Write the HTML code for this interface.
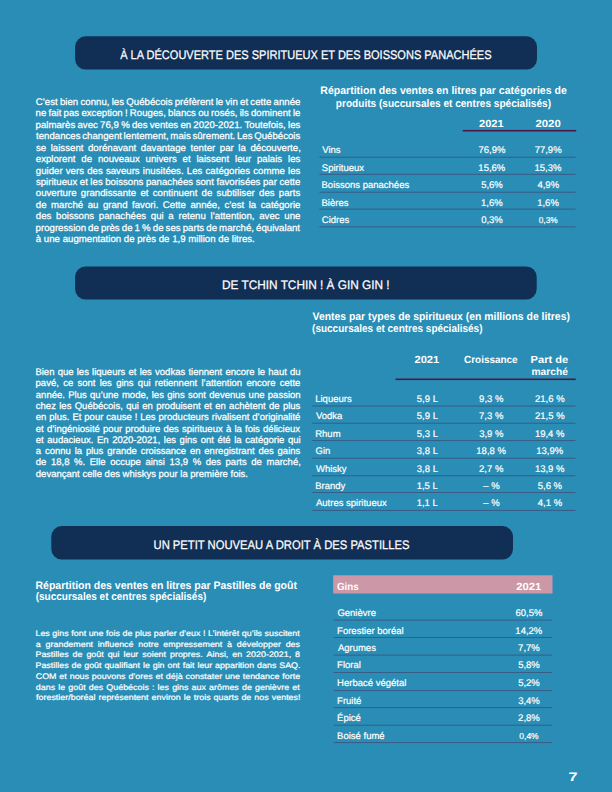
<!DOCTYPE html>
<html><head><meta charset="utf-8"><style>
html,body{margin:0;padding:0}
body{width:612px;height:792px;background:#298db5;overflow:hidden}
svg{display:block;text-rendering:geometricPrecision;font-family:"Liberation Sans",sans-serif}
</style></head><body>
<svg width="612" height="792" viewBox="0 0 612 792" font-family="Liberation Sans, sans-serif" fill="#fff">
<rect x="75.10" y="36.30" width="461.90" height="33.30" rx="10.5" fill="#112e54"/>
<text x="120.18" y="59.00" font-size="12.4" font-weight="400" textLength="371.33" lengthAdjust="spacingAndGlyphs" stroke="#fff" stroke-width="0.25">À LA DÉCOUVERTE DES SPIRITUEUX ET DES BOISSONS PANACHÉES</text>
<rect x="75.10" y="266.50" width="461.60" height="33.10" rx="10.5" fill="#112e54"/>
<text x="222.03" y="289.00" font-size="12.4" font-weight="400" textLength="167.54" lengthAdjust="spacingAndGlyphs" stroke="#fff" stroke-width="0.25">DE TCHIN TCHIN ! À GIN GIN !</text>
<rect x="51.30" y="526.10" width="461.70" height="33.50" rx="10.5" fill="#112e54"/>
<text x="153.53" y="549.00" font-size="12.4" font-weight="400" textLength="255.98" lengthAdjust="spacingAndGlyphs" stroke="#fff" stroke-width="0.25">UN PETIT NOUVEAU A DROIT À DES PASTILLES</text>
<text x="35.71" y="105.00" font-size="9.6" font-weight="400" textLength="21.99" lengthAdjust="spacingAndGlyphs" stroke="#fff" stroke-width="0.25">C’est</text>
<text x="59.97" y="105.00" font-size="9.6" font-weight="400" textLength="18.25" lengthAdjust="spacingAndGlyphs" stroke="#fff" stroke-width="0.25">bien</text>
<text x="80.48" y="105.00" font-size="9.6" font-weight="400" textLength="28.99" lengthAdjust="spacingAndGlyphs" stroke="#fff" stroke-width="0.25">connu,</text>
<text x="111.73" y="105.00" font-size="9.6" font-weight="400" textLength="12.34" lengthAdjust="spacingAndGlyphs" stroke="#fff" stroke-width="0.25">les</text>
<text x="126.34" y="105.00" font-size="9.6" font-weight="400" textLength="46.15" lengthAdjust="spacingAndGlyphs" stroke="#fff" stroke-width="0.25">Québécois</text>
<text x="174.76" y="105.00" font-size="9.6" font-weight="400" textLength="38.64" lengthAdjust="spacingAndGlyphs" stroke="#fff" stroke-width="0.25">préfèrent</text>
<text x="215.66" y="105.00" font-size="9.6" font-weight="400" textLength="7.51" lengthAdjust="spacingAndGlyphs" stroke="#fff" stroke-width="0.25">le</text>
<text x="225.44" y="105.00" font-size="9.6" font-weight="400" textLength="12.34" lengthAdjust="spacingAndGlyphs" stroke="#fff" stroke-width="0.25">vin</text>
<text x="240.05" y="105.00" font-size="9.6" font-weight="400" textLength="8.06" lengthAdjust="spacingAndGlyphs" stroke="#fff" stroke-width="0.25">et</text>
<text x="250.38" y="105.00" font-size="9.6" font-weight="400" textLength="20.94" lengthAdjust="spacingAndGlyphs" stroke="#fff" stroke-width="0.25">cette</text>
<text x="273.58" y="105.00" font-size="9.6" font-weight="400" textLength="26.85" lengthAdjust="spacingAndGlyphs" stroke="#fff" stroke-width="0.25">année</text>
<text x="35.56" y="116.42" font-size="9.6" font-weight="400" textLength="10.74" lengthAdjust="spacingAndGlyphs" stroke="#fff" stroke-width="0.25">ne</text>
<text x="48.52" y="116.42" font-size="9.6" font-weight="400" textLength="12.89" lengthAdjust="spacingAndGlyphs" stroke="#fff" stroke-width="0.25">fait</text>
<text x="63.63" y="116.42" font-size="9.6" font-weight="400" textLength="15.56" lengthAdjust="spacingAndGlyphs" stroke="#fff" stroke-width="0.25">pas</text>
<text x="81.41" y="116.42" font-size="9.6" font-weight="400" textLength="41.32" lengthAdjust="spacingAndGlyphs" stroke="#fff" stroke-width="0.25">exception</text>
<text x="124.96" y="116.42" font-size="9.6" font-weight="400" textLength="2.69" lengthAdjust="spacingAndGlyphs" stroke="#fff" stroke-width="0.25">!</text>
<text x="129.87" y="116.42" font-size="9.6" font-weight="400" textLength="35.95" lengthAdjust="spacingAndGlyphs" stroke="#fff" stroke-width="0.25">Rouges,</text>
<text x="168.04" y="116.42" font-size="9.6" font-weight="400" textLength="27.90" lengthAdjust="spacingAndGlyphs" stroke="#fff" stroke-width="0.25">blancs</text>
<text x="198.17" y="116.42" font-size="9.6" font-weight="400" textLength="10.74" lengthAdjust="spacingAndGlyphs" stroke="#fff" stroke-width="0.25">ou</text>
<text x="211.13" y="116.42" font-size="9.6" font-weight="400" textLength="26.30" lengthAdjust="spacingAndGlyphs" stroke="#fff" stroke-width="0.25">rosés,</text>
<text x="239.65" y="116.42" font-size="9.6" font-weight="400" textLength="9.12" lengthAdjust="spacingAndGlyphs" stroke="#fff" stroke-width="0.25">ils</text>
<text x="250.99" y="116.42" font-size="9.6" font-weight="400" textLength="39.71" lengthAdjust="spacingAndGlyphs" stroke="#fff" stroke-width="0.25">dominent</text>
<text x="292.92" y="116.42" font-size="9.6" font-weight="400" textLength="7.51" lengthAdjust="spacingAndGlyphs" stroke="#fff" stroke-width="0.25">le</text>
<text x="35.58" y="127.84" font-size="9.6" font-weight="400" textLength="39.71" lengthAdjust="spacingAndGlyphs" stroke="#fff" stroke-width="0.25">palmarès</text>
<text x="77.51" y="127.84" font-size="9.6" font-weight="400" textLength="20.39" lengthAdjust="spacingAndGlyphs" stroke="#fff" stroke-width="0.25">avec</text>
<text x="100.13" y="127.84" font-size="9.6" font-weight="400" textLength="18.80" lengthAdjust="spacingAndGlyphs" stroke="#fff" stroke-width="0.25">76,9</text>
<text x="121.15" y="127.84" font-size="9.6" font-weight="400" textLength="8.58" lengthAdjust="spacingAndGlyphs" stroke="#fff" stroke-width="0.25">%</text>
<text x="131.96" y="127.84" font-size="9.6" font-weight="400" textLength="15.56" lengthAdjust="spacingAndGlyphs" stroke="#fff" stroke-width="0.25">des</text>
<text x="149.75" y="127.84" font-size="9.6" font-weight="400" textLength="28.45" lengthAdjust="spacingAndGlyphs" stroke="#fff" stroke-width="0.25">ventes</text>
<text x="180.43" y="127.84" font-size="9.6" font-weight="400" textLength="10.74" lengthAdjust="spacingAndGlyphs" stroke="#fff" stroke-width="0.25">en</text>
<text x="193.39" y="127.84" font-size="9.6" font-weight="400" textLength="48.84" lengthAdjust="spacingAndGlyphs" stroke="#fff" stroke-width="0.25">2020-2021.</text>
<text x="244.46" y="127.84" font-size="9.6" font-weight="400" textLength="41.32" lengthAdjust="spacingAndGlyphs" stroke="#fff" stroke-width="0.25">Toutefois,</text>
<text x="288.01" y="127.84" font-size="9.6" font-weight="400" textLength="12.34" lengthAdjust="spacingAndGlyphs" stroke="#fff" stroke-width="0.25">les</text>
<text x="36.05" y="139.26" font-size="9.6" font-weight="400" textLength="44.50" lengthAdjust="spacingAndGlyphs" stroke="#fff" stroke-width="0.25">tendances</text>
<text x="82.25" y="139.26" font-size="9.6" font-weight="400" textLength="39.68" lengthAdjust="spacingAndGlyphs" stroke="#fff" stroke-width="0.25">changent</text>
<text x="123.63" y="139.26" font-size="9.6" font-weight="400" textLength="45.04" lengthAdjust="spacingAndGlyphs" stroke="#fff" stroke-width="0.25">lentement,</text>
<text x="170.36" y="139.26" font-size="9.6" font-weight="400" textLength="20.37" lengthAdjust="spacingAndGlyphs" stroke="#fff" stroke-width="0.25">mais</text>
<text x="192.42" y="139.26" font-size="9.6" font-weight="400" textLength="42.89" lengthAdjust="spacingAndGlyphs" stroke="#fff" stroke-width="0.25">sûrement.</text>
<text x="237.00" y="139.26" font-size="9.6" font-weight="400" textLength="15.55" lengthAdjust="spacingAndGlyphs" stroke="#fff" stroke-width="0.25">Les</text>
<text x="254.24" y="139.26" font-size="9.6" font-weight="400" textLength="46.10" lengthAdjust="spacingAndGlyphs" stroke="#fff" stroke-width="0.25">Québécois</text>
<text x="35.93" y="150.68" font-size="9.6" font-weight="400" textLength="10.20" lengthAdjust="spacingAndGlyphs" stroke="#fff" stroke-width="0.25">se</text>
<text x="50.71" y="150.68" font-size="9.6" font-weight="400" textLength="32.73" lengthAdjust="spacingAndGlyphs" stroke="#fff" stroke-width="0.25">laissent</text>
<text x="88.01" y="150.68" font-size="9.6" font-weight="400" textLength="48.30" lengthAdjust="spacingAndGlyphs" stroke="#fff" stroke-width="0.25">dorénavant</text>
<text x="140.88" y="150.68" font-size="9.6" font-weight="400" textLength="45.08" lengthAdjust="spacingAndGlyphs" stroke="#fff" stroke-width="0.25">davantage</text>
<text x="190.54" y="150.68" font-size="9.6" font-weight="400" textLength="24.69" lengthAdjust="spacingAndGlyphs" stroke="#fff" stroke-width="0.25">tenter</text>
<text x="219.81" y="150.68" font-size="9.6" font-weight="400" textLength="13.96" lengthAdjust="spacingAndGlyphs" stroke="#fff" stroke-width="0.25">par</text>
<text x="238.34" y="150.68" font-size="9.6" font-weight="400" textLength="7.51" lengthAdjust="spacingAndGlyphs" stroke="#fff" stroke-width="0.25">la</text>
<text x="250.43" y="150.68" font-size="9.6" font-weight="400" textLength="50.44" lengthAdjust="spacingAndGlyphs" stroke="#fff" stroke-width="0.25">découverte,</text>
<text x="35.79" y="162.10" font-size="9.6" font-weight="400" textLength="39.71" lengthAdjust="spacingAndGlyphs" stroke="#fff" stroke-width="0.25">explorent</text>
<text x="81.33" y="162.10" font-size="9.6" font-weight="400" textLength="10.74" lengthAdjust="spacingAndGlyphs" stroke="#fff" stroke-width="0.25">de</text>
<text x="97.90" y="162.10" font-size="9.6" font-weight="400" textLength="41.86" lengthAdjust="spacingAndGlyphs" stroke="#fff" stroke-width="0.25">nouveaux</text>
<text x="145.60" y="162.10" font-size="9.6" font-weight="400" textLength="31.12" lengthAdjust="spacingAndGlyphs" stroke="#fff" stroke-width="0.25">univers</text>
<text x="182.55" y="162.10" font-size="9.6" font-weight="400" textLength="8.06" lengthAdjust="spacingAndGlyphs" stroke="#fff" stroke-width="0.25">et</text>
<text x="196.45" y="162.10" font-size="9.6" font-weight="400" textLength="32.73" lengthAdjust="spacingAndGlyphs" stroke="#fff" stroke-width="0.25">laissent</text>
<text x="235.01" y="162.10" font-size="9.6" font-weight="400" textLength="16.10" lengthAdjust="spacingAndGlyphs" stroke="#fff" stroke-width="0.25">leur</text>
<text x="256.95" y="162.10" font-size="9.6" font-weight="400" textLength="25.23" lengthAdjust="spacingAndGlyphs" stroke="#fff" stroke-width="0.25">palais</text>
<text x="288.01" y="162.10" font-size="9.6" font-weight="400" textLength="12.34" lengthAdjust="spacingAndGlyphs" stroke="#fff" stroke-width="0.25">les</text>
<text x="35.79" y="173.52" font-size="9.6" font-weight="400" textLength="26.83" lengthAdjust="spacingAndGlyphs" stroke="#fff" stroke-width="0.25">guider</text>
<text x="65.79" y="173.52" font-size="9.6" font-weight="400" textLength="18.23" lengthAdjust="spacingAndGlyphs" stroke="#fff" stroke-width="0.25">vers</text>
<text x="87.18" y="173.52" font-size="9.6" font-weight="400" textLength="15.56" lengthAdjust="spacingAndGlyphs" stroke="#fff" stroke-width="0.25">des</text>
<text x="105.90" y="173.52" font-size="9.6" font-weight="400" textLength="33.80" lengthAdjust="spacingAndGlyphs" stroke="#fff" stroke-width="0.25">saveurs</text>
<text x="142.86" y="173.52" font-size="9.6" font-weight="400" textLength="40.77" lengthAdjust="spacingAndGlyphs" stroke="#fff" stroke-width="0.25">inusitées.</text>
<text x="186.79" y="173.52" font-size="9.6" font-weight="400" textLength="15.56" lengthAdjust="spacingAndGlyphs" stroke="#fff" stroke-width="0.25">Les</text>
<text x="205.52" y="173.52" font-size="9.6" font-weight="400" textLength="44.53" lengthAdjust="spacingAndGlyphs" stroke="#fff" stroke-width="0.25">catégories</text>
<text x="253.21" y="173.52" font-size="9.6" font-weight="400" textLength="31.64" lengthAdjust="spacingAndGlyphs" stroke="#fff" stroke-width="0.25">comme</text>
<text x="288.01" y="173.52" font-size="9.6" font-weight="400" textLength="12.34" lengthAdjust="spacingAndGlyphs" stroke="#fff" stroke-width="0.25">les</text>
<text x="35.93" y="184.94" font-size="9.6" font-weight="400" textLength="41.31" lengthAdjust="spacingAndGlyphs" stroke="#fff" stroke-width="0.25">spiritueux</text>
<text x="79.78" y="184.94" font-size="9.6" font-weight="400" textLength="8.06" lengthAdjust="spacingAndGlyphs" stroke="#fff" stroke-width="0.25">et</text>
<text x="90.38" y="184.94" font-size="9.6" font-weight="400" textLength="12.34" lengthAdjust="spacingAndGlyphs" stroke="#fff" stroke-width="0.25">les</text>
<text x="105.26" y="184.94" font-size="9.6" font-weight="400" textLength="38.10" lengthAdjust="spacingAndGlyphs" stroke="#fff" stroke-width="0.25">boissons</text>
<text x="145.90" y="184.94" font-size="9.6" font-weight="400" textLength="47.23" lengthAdjust="spacingAndGlyphs" stroke="#fff" stroke-width="0.25">panachées</text>
<text x="195.67" y="184.94" font-size="9.6" font-weight="400" textLength="18.25" lengthAdjust="spacingAndGlyphs" stroke="#fff" stroke-width="0.25">sont</text>
<text x="216.46" y="184.94" font-size="9.6" font-weight="400" textLength="44.00" lengthAdjust="spacingAndGlyphs" stroke="#fff" stroke-width="0.25">favorisées</text>
<text x="263.00" y="184.94" font-size="9.6" font-weight="400" textLength="13.96" lengthAdjust="spacingAndGlyphs" stroke="#fff" stroke-width="0.25">par</text>
<text x="279.49" y="184.94" font-size="9.6" font-weight="400" textLength="20.94" lengthAdjust="spacingAndGlyphs" stroke="#fff" stroke-width="0.25">cette</text>
<text x="35.79" y="196.36" font-size="9.6" font-weight="400" textLength="40.77" lengthAdjust="spacingAndGlyphs" stroke="#fff" stroke-width="0.25">ouverture</text>
<text x="80.86" y="196.36" font-size="9.6" font-weight="400" textLength="55.27" lengthAdjust="spacingAndGlyphs" stroke="#fff" stroke-width="0.25">grandissante</text>
<text x="140.42" y="196.36" font-size="9.6" font-weight="400" textLength="8.06" lengthAdjust="spacingAndGlyphs" stroke="#fff" stroke-width="0.25">et</text>
<text x="152.78" y="196.36" font-size="9.6" font-weight="400" textLength="44.55" lengthAdjust="spacingAndGlyphs" stroke="#fff" stroke-width="0.25">continuent</text>
<text x="201.62" y="196.36" font-size="9.6" font-weight="400" textLength="10.74" lengthAdjust="spacingAndGlyphs" stroke="#fff" stroke-width="0.25">de</text>
<text x="216.64" y="196.36" font-size="9.6" font-weight="400" textLength="38.09" lengthAdjust="spacingAndGlyphs" stroke="#fff" stroke-width="0.25">subtiliser</text>
<text x="259.02" y="196.36" font-size="9.6" font-weight="400" textLength="15.56" lengthAdjust="spacingAndGlyphs" stroke="#fff" stroke-width="0.25">des</text>
<text x="278.88" y="196.36" font-size="9.6" font-weight="400" textLength="21.47" lengthAdjust="spacingAndGlyphs" stroke="#fff" stroke-width="0.25">parts</text>
<text x="35.79" y="207.78" font-size="9.6" font-weight="400" textLength="10.74" lengthAdjust="spacingAndGlyphs" stroke="#fff" stroke-width="0.25">de</text>
<text x="51.01" y="207.78" font-size="9.6" font-weight="400" textLength="32.19" lengthAdjust="spacingAndGlyphs" stroke="#fff" stroke-width="0.25">marché</text>
<text x="87.68" y="207.78" font-size="9.6" font-weight="400" textLength="10.74" lengthAdjust="spacingAndGlyphs" stroke="#fff" stroke-width="0.25">au</text>
<text x="102.90" y="207.78" font-size="9.6" font-weight="400" textLength="24.69" lengthAdjust="spacingAndGlyphs" stroke="#fff" stroke-width="0.25">grand</text>
<text x="132.07" y="207.78" font-size="9.6" font-weight="400" textLength="26.30" lengthAdjust="spacingAndGlyphs" stroke="#fff" stroke-width="0.25">favori.</text>
<text x="162.85" y="207.78" font-size="9.6" font-weight="400" textLength="23.08" lengthAdjust="spacingAndGlyphs" stroke="#fff" stroke-width="0.25">Cette</text>
<text x="190.40" y="207.78" font-size="9.6" font-weight="400" textLength="29.52" lengthAdjust="spacingAndGlyphs" stroke="#fff" stroke-width="0.25">année,</text>
<text x="224.40" y="207.78" font-size="9.6" font-weight="400" textLength="19.85" lengthAdjust="spacingAndGlyphs" stroke="#fff" stroke-width="0.25">c’est</text>
<text x="248.73" y="207.78" font-size="9.6" font-weight="400" textLength="7.51" lengthAdjust="spacingAndGlyphs" stroke="#fff" stroke-width="0.25">la</text>
<text x="260.72" y="207.78" font-size="9.6" font-weight="400" textLength="39.71" lengthAdjust="spacingAndGlyphs" stroke="#fff" stroke-width="0.25">catégorie</text>
<text x="35.79" y="219.20" font-size="9.6" font-weight="400" textLength="15.56" lengthAdjust="spacingAndGlyphs" stroke="#fff" stroke-width="0.25">des</text>
<text x="56.06" y="219.20" font-size="9.6" font-weight="400" textLength="38.10" lengthAdjust="spacingAndGlyphs" stroke="#fff" stroke-width="0.25">boissons</text>
<text x="98.86" y="219.20" font-size="9.6" font-weight="400" textLength="47.23" lengthAdjust="spacingAndGlyphs" stroke="#fff" stroke-width="0.25">panachées</text>
<text x="150.80" y="219.20" font-size="9.6" font-weight="400" textLength="12.89" lengthAdjust="spacingAndGlyphs" stroke="#fff" stroke-width="0.25">qui</text>
<text x="168.39" y="219.20" font-size="9.6" font-weight="400" textLength="5.38" lengthAdjust="spacingAndGlyphs" stroke="#fff" stroke-width="0.25">a</text>
<text x="178.46" y="219.20" font-size="9.6" font-weight="400" textLength="27.37" lengthAdjust="spacingAndGlyphs" stroke="#fff" stroke-width="0.25">retenu</text>
<text x="210.53" y="219.20" font-size="9.6" font-weight="400" textLength="44.00" lengthAdjust="spacingAndGlyphs" stroke="#fff" stroke-width="0.25">l’attention,</text>
<text x="259.23" y="219.20" font-size="9.6" font-weight="400" textLength="20.39" lengthAdjust="spacingAndGlyphs" stroke="#fff" stroke-width="0.25">avec</text>
<text x="284.32" y="219.20" font-size="9.6" font-weight="400" textLength="16.11" lengthAdjust="spacingAndGlyphs" stroke="#fff" stroke-width="0.25">une</text>
<text x="35.58" y="230.62" font-size="9.6" font-weight="400" textLength="50.44" lengthAdjust="spacingAndGlyphs" stroke="#fff" stroke-width="0.25">progression</text>
<text x="88.11" y="230.62" font-size="9.6" font-weight="400" textLength="10.74" lengthAdjust="spacingAndGlyphs" stroke="#fff" stroke-width="0.25">de</text>
<text x="100.93" y="230.62" font-size="9.6" font-weight="400" textLength="18.78" lengthAdjust="spacingAndGlyphs" stroke="#fff" stroke-width="0.25">près</text>
<text x="121.81" y="230.62" font-size="9.6" font-weight="400" textLength="10.74" lengthAdjust="spacingAndGlyphs" stroke="#fff" stroke-width="0.25">de</text>
<text x="134.63" y="230.62" font-size="9.6" font-weight="400" textLength="5.38" lengthAdjust="spacingAndGlyphs" stroke="#fff" stroke-width="0.25">1</text>
<text x="142.10" y="230.62" font-size="9.6" font-weight="400" textLength="8.58" lengthAdjust="spacingAndGlyphs" stroke="#fff" stroke-width="0.25">%</text>
<text x="152.77" y="230.62" font-size="9.6" font-weight="400" textLength="10.74" lengthAdjust="spacingAndGlyphs" stroke="#fff" stroke-width="0.25">de</text>
<text x="165.60" y="230.62" font-size="9.6" font-weight="400" textLength="15.03" lengthAdjust="spacingAndGlyphs" stroke="#fff" stroke-width="0.25">ses</text>
<text x="182.72" y="230.62" font-size="9.6" font-weight="400" textLength="21.47" lengthAdjust="spacingAndGlyphs" stroke="#fff" stroke-width="0.25">parts</text>
<text x="206.28" y="230.62" font-size="9.6" font-weight="400" textLength="10.74" lengthAdjust="spacingAndGlyphs" stroke="#fff" stroke-width="0.25">de</text>
<text x="219.10" y="230.62" font-size="9.6" font-weight="400" textLength="34.86" lengthAdjust="spacingAndGlyphs" stroke="#fff" stroke-width="0.25">marché,</text>
<text x="256.06" y="230.62" font-size="9.6" font-weight="400" textLength="44.01" lengthAdjust="spacingAndGlyphs" stroke="#fff" stroke-width="0.25">équivalant</text>
<text x="35.79" y="242.04" font-size="9.6" font-weight="400" textLength="5.38" lengthAdjust="spacingAndGlyphs" stroke="#fff" stroke-width="0.25">à</text>
<text x="43.85" y="242.04" font-size="9.6" font-weight="400" textLength="16.11" lengthAdjust="spacingAndGlyphs" stroke="#fff" stroke-width="0.25">une</text>
<text x="62.65" y="242.04" font-size="9.6" font-weight="400" textLength="58.49" lengthAdjust="spacingAndGlyphs" stroke="#fff" stroke-width="0.25">augmentation</text>
<text x="123.83" y="242.04" font-size="9.6" font-weight="400" textLength="10.74" lengthAdjust="spacingAndGlyphs" stroke="#fff" stroke-width="0.25">de</text>
<text x="137.25" y="242.04" font-size="9.6" font-weight="400" textLength="18.78" lengthAdjust="spacingAndGlyphs" stroke="#fff" stroke-width="0.25">près</text>
<text x="158.73" y="242.04" font-size="9.6" font-weight="400" textLength="10.74" lengthAdjust="spacingAndGlyphs" stroke="#fff" stroke-width="0.25">de</text>
<text x="172.15" y="242.04" font-size="9.6" font-weight="400" textLength="13.42" lengthAdjust="spacingAndGlyphs" stroke="#fff" stroke-width="0.25">1,9</text>
<text x="188.26" y="242.04" font-size="9.6" font-weight="400" textLength="27.37" lengthAdjust="spacingAndGlyphs" stroke="#fff" stroke-width="0.25">million</text>
<text x="218.32" y="242.04" font-size="9.6" font-weight="400" textLength="10.74" lengthAdjust="spacingAndGlyphs" stroke="#fff" stroke-width="0.25">de</text>
<text x="231.74" y="242.04" font-size="9.6" font-weight="400" textLength="23.06" lengthAdjust="spacingAndGlyphs" stroke="#fff" stroke-width="0.25">litres.</text>
<text x="35.42" y="375.00" font-size="9.6" font-weight="400" textLength="19.05" lengthAdjust="spacingAndGlyphs" stroke="#fff" stroke-width="0.25">Bien</text>
<text x="57.65" y="375.00" font-size="9.6" font-weight="400" textLength="15.89" lengthAdjust="spacingAndGlyphs" stroke="#fff" stroke-width="0.25">que</text>
<text x="76.72" y="375.00" font-size="9.6" font-weight="400" textLength="12.17" lengthAdjust="spacingAndGlyphs" stroke="#fff" stroke-width="0.25">les</text>
<text x="92.06" y="375.00" font-size="9.6" font-weight="400" textLength="33.34" lengthAdjust="spacingAndGlyphs" stroke="#fff" stroke-width="0.25">liqueurs</text>
<text x="128.58" y="375.00" font-size="9.6" font-weight="400" textLength="7.95" lengthAdjust="spacingAndGlyphs" stroke="#fff" stroke-width="0.25">et</text>
<text x="139.71" y="375.00" font-size="9.6" font-weight="400" textLength="12.17" lengthAdjust="spacingAndGlyphs" stroke="#fff" stroke-width="0.25">les</text>
<text x="155.06" y="375.00" font-size="9.6" font-weight="400" textLength="30.16" lengthAdjust="spacingAndGlyphs" stroke="#fff" stroke-width="0.25">vodkas</text>
<text x="188.40" y="375.00" font-size="9.6" font-weight="400" textLength="33.87" lengthAdjust="spacingAndGlyphs" stroke="#fff" stroke-width="0.25">tiennent</text>
<text x="225.45" y="375.00" font-size="9.6" font-weight="400" textLength="29.11" lengthAdjust="spacingAndGlyphs" stroke="#fff" stroke-width="0.25">encore</text>
<text x="257.74" y="375.00" font-size="9.6" font-weight="400" textLength="7.41" lengthAdjust="spacingAndGlyphs" stroke="#fff" stroke-width="0.25">le</text>
<text x="268.33" y="375.00" font-size="9.6" font-weight="400" textLength="18.54" lengthAdjust="spacingAndGlyphs" stroke="#fff" stroke-width="0.25">haut</text>
<text x="290.05" y="375.00" font-size="9.6" font-weight="400" textLength="10.59" lengthAdjust="spacingAndGlyphs" stroke="#fff" stroke-width="0.25">du</text>
<text x="35.59" y="386.30" font-size="9.6" font-weight="400" textLength="23.30" lengthAdjust="spacingAndGlyphs" stroke="#fff" stroke-width="0.25">pavé,</text>
<text x="63.14" y="386.30" font-size="9.6" font-weight="400" textLength="10.06" lengthAdjust="spacingAndGlyphs" stroke="#fff" stroke-width="0.25">ce</text>
<text x="77.45" y="386.30" font-size="9.6" font-weight="400" textLength="18.00" lengthAdjust="spacingAndGlyphs" stroke="#fff" stroke-width="0.25">sont</text>
<text x="99.71" y="386.30" font-size="9.6" font-weight="400" textLength="12.17" lengthAdjust="spacingAndGlyphs" stroke="#fff" stroke-width="0.25">les</text>
<text x="116.13" y="386.30" font-size="9.6" font-weight="400" textLength="17.47" lengthAdjust="spacingAndGlyphs" stroke="#fff" stroke-width="0.25">gins</text>
<text x="137.85" y="386.30" font-size="9.6" font-weight="400" textLength="12.71" lengthAdjust="spacingAndGlyphs" stroke="#fff" stroke-width="0.25">qui</text>
<text x="154.82" y="386.30" font-size="9.6" font-weight="400" textLength="42.33" lengthAdjust="spacingAndGlyphs" stroke="#fff" stroke-width="0.25">retiennent</text>
<text x="201.41" y="386.30" font-size="9.6" font-weight="400" textLength="40.75" lengthAdjust="spacingAndGlyphs" stroke="#fff" stroke-width="0.25">l’attention</text>
<text x="246.41" y="386.30" font-size="9.6" font-weight="400" textLength="29.11" lengthAdjust="spacingAndGlyphs" stroke="#fff" stroke-width="0.25">encore</text>
<text x="279.78" y="386.30" font-size="9.6" font-weight="400" textLength="20.65" lengthAdjust="spacingAndGlyphs" stroke="#fff" stroke-width="0.25">cette</text>
<text x="35.80" y="397.60" font-size="9.6" font-weight="400" textLength="29.11" lengthAdjust="spacingAndGlyphs" stroke="#fff" stroke-width="0.25">année.</text>
<text x="68.22" y="397.60" font-size="9.6" font-weight="400" textLength="18.52" lengthAdjust="spacingAndGlyphs" stroke="#fff" stroke-width="0.25">Plus</text>
<text x="90.06" y="397.60" font-size="9.6" font-weight="400" textLength="28.58" lengthAdjust="spacingAndGlyphs" stroke="#fff" stroke-width="0.25">qu’une</text>
<text x="121.95" y="397.60" font-size="9.6" font-weight="400" textLength="26.46" lengthAdjust="spacingAndGlyphs" stroke="#fff" stroke-width="0.25">mode,</text>
<text x="151.72" y="397.60" font-size="9.6" font-weight="400" textLength="12.17" lengthAdjust="spacingAndGlyphs" stroke="#fff" stroke-width="0.25">les</text>
<text x="167.21" y="397.60" font-size="9.6" font-weight="400" textLength="17.47" lengthAdjust="spacingAndGlyphs" stroke="#fff" stroke-width="0.25">gins</text>
<text x="187.99" y="397.60" font-size="9.6" font-weight="400" textLength="18.00" lengthAdjust="spacingAndGlyphs" stroke="#fff" stroke-width="0.25">sont</text>
<text x="209.30" y="397.60" font-size="9.6" font-weight="400" textLength="35.99" lengthAdjust="spacingAndGlyphs" stroke="#fff" stroke-width="0.25">devenus</text>
<text x="248.60" y="397.60" font-size="9.6" font-weight="400" textLength="15.89" lengthAdjust="spacingAndGlyphs" stroke="#fff" stroke-width="0.25">une</text>
<text x="267.80" y="397.60" font-size="9.6" font-weight="400" textLength="32.81" lengthAdjust="spacingAndGlyphs" stroke="#fff" stroke-width="0.25">passion</text>
<text x="35.80" y="408.90" font-size="9.6" font-weight="400" textLength="20.10" lengthAdjust="spacingAndGlyphs" stroke="#fff" stroke-width="0.25">chez</text>
<text x="59.23" y="408.90" font-size="9.6" font-weight="400" textLength="12.17" lengthAdjust="spacingAndGlyphs" stroke="#fff" stroke-width="0.25">les</text>
<text x="74.72" y="408.90" font-size="9.6" font-weight="400" textLength="48.14" lengthAdjust="spacingAndGlyphs" stroke="#fff" stroke-width="0.25">Québécois,</text>
<text x="126.19" y="408.90" font-size="9.6" font-weight="400" textLength="12.71" lengthAdjust="spacingAndGlyphs" stroke="#fff" stroke-width="0.25">qui</text>
<text x="142.23" y="408.90" font-size="9.6" font-weight="400" textLength="10.59" lengthAdjust="spacingAndGlyphs" stroke="#fff" stroke-width="0.25">en</text>
<text x="156.14" y="408.90" font-size="9.6" font-weight="400" textLength="44.45" lengthAdjust="spacingAndGlyphs" stroke="#fff" stroke-width="0.25">produisent</text>
<text x="203.92" y="408.90" font-size="9.6" font-weight="400" textLength="7.95" lengthAdjust="spacingAndGlyphs" stroke="#fff" stroke-width="0.25">et</text>
<text x="215.20" y="408.90" font-size="9.6" font-weight="400" textLength="10.59" lengthAdjust="spacingAndGlyphs" stroke="#fff" stroke-width="0.25">en</text>
<text x="229.12" y="408.90" font-size="9.6" font-weight="400" textLength="36.52" lengthAdjust="spacingAndGlyphs" stroke="#fff" stroke-width="0.25">achètent</text>
<text x="268.96" y="408.90" font-size="9.6" font-weight="400" textLength="10.59" lengthAdjust="spacingAndGlyphs" stroke="#fff" stroke-width="0.25">de</text>
<text x="282.88" y="408.90" font-size="9.6" font-weight="400" textLength="17.47" lengthAdjust="spacingAndGlyphs" stroke="#fff" stroke-width="0.25">plus</text>
<text x="35.80" y="420.20" font-size="9.6" font-weight="400" textLength="10.59" lengthAdjust="spacingAndGlyphs" stroke="#fff" stroke-width="0.25">en</text>
<text x="49.33" y="420.20" font-size="9.6" font-weight="400" textLength="20.10" lengthAdjust="spacingAndGlyphs" stroke="#fff" stroke-width="0.25">plus.</text>
<text x="72.38" y="420.20" font-size="9.6" font-weight="400" textLength="9.01" lengthAdjust="spacingAndGlyphs" stroke="#fff" stroke-width="0.25">Et</text>
<text x="84.33" y="420.20" font-size="9.6" font-weight="400" textLength="19.05" lengthAdjust="spacingAndGlyphs" stroke="#fff" stroke-width="0.25">pour</text>
<text x="106.33" y="420.20" font-size="9.6" font-weight="400" textLength="25.40" lengthAdjust="spacingAndGlyphs" stroke="#fff" stroke-width="0.25">cause</text>
<text x="134.68" y="420.20" font-size="9.6" font-weight="400" textLength="2.65" lengthAdjust="spacingAndGlyphs" stroke="#fff" stroke-width="0.25">!</text>
<text x="140.27" y="420.20" font-size="9.6" font-weight="400" textLength="15.35" lengthAdjust="spacingAndGlyphs" stroke="#fff" stroke-width="0.25">Les</text>
<text x="158.56" y="420.20" font-size="9.6" font-weight="400" textLength="50.27" lengthAdjust="spacingAndGlyphs" stroke="#fff" stroke-width="0.25">producteurs</text>
<text x="211.78" y="420.20" font-size="9.6" font-weight="400" textLength="37.56" lengthAdjust="spacingAndGlyphs" stroke="#fff" stroke-width="0.25">rivalisent</text>
<text x="252.28" y="420.20" font-size="9.6" font-weight="400" textLength="48.14" lengthAdjust="spacingAndGlyphs" stroke="#fff" stroke-width="0.25">d’originalité</text>
<text x="35.80" y="431.50" font-size="9.6" font-weight="400" textLength="7.95" lengthAdjust="spacingAndGlyphs" stroke="#fff" stroke-width="0.25">et</text>
<text x="46.95" y="431.50" font-size="9.6" font-weight="400" textLength="52.92" lengthAdjust="spacingAndGlyphs" stroke="#fff" stroke-width="0.25">d’ingéniosité</text>
<text x="103.07" y="431.50" font-size="9.6" font-weight="400" textLength="19.05" lengthAdjust="spacingAndGlyphs" stroke="#fff" stroke-width="0.25">pour</text>
<text x="125.32" y="431.50" font-size="9.6" font-weight="400" textLength="34.92" lengthAdjust="spacingAndGlyphs" stroke="#fff" stroke-width="0.25">produire</text>
<text x="163.44" y="431.50" font-size="9.6" font-weight="400" textLength="15.35" lengthAdjust="spacingAndGlyphs" stroke="#fff" stroke-width="0.25">des</text>
<text x="181.99" y="431.50" font-size="9.6" font-weight="400" textLength="40.73" lengthAdjust="spacingAndGlyphs" stroke="#fff" stroke-width="0.25">spiritueux</text>
<text x="225.92" y="431.50" font-size="9.6" font-weight="400" textLength="5.30" lengthAdjust="spacingAndGlyphs" stroke="#fff" stroke-width="0.25">à</text>
<text x="234.43" y="431.50" font-size="9.6" font-weight="400" textLength="7.41" lengthAdjust="spacingAndGlyphs" stroke="#fff" stroke-width="0.25">la</text>
<text x="245.04" y="431.50" font-size="9.6" font-weight="400" textLength="14.82" lengthAdjust="spacingAndGlyphs" stroke="#fff" stroke-width="0.25">fois</text>
<text x="263.06" y="431.50" font-size="9.6" font-weight="400" textLength="37.05" lengthAdjust="spacingAndGlyphs" stroke="#fff" stroke-width="0.25">délicieux</text>
<text x="35.80" y="442.80" font-size="9.6" font-weight="400" textLength="7.95" lengthAdjust="spacingAndGlyphs" stroke="#fff" stroke-width="0.25">et</text>
<text x="47.31" y="442.80" font-size="9.6" font-weight="400" textLength="46.03" lengthAdjust="spacingAndGlyphs" stroke="#fff" stroke-width="0.25">audacieux.</text>
<text x="96.91" y="442.80" font-size="9.6" font-weight="400" textLength="11.66" lengthAdjust="spacingAndGlyphs" stroke="#fff" stroke-width="0.25">En</text>
<text x="112.14" y="442.80" font-size="9.6" font-weight="400" textLength="48.16" lengthAdjust="spacingAndGlyphs" stroke="#fff" stroke-width="0.25">2020-2021,</text>
<text x="163.86" y="442.80" font-size="9.6" font-weight="400" textLength="12.17" lengthAdjust="spacingAndGlyphs" stroke="#fff" stroke-width="0.25">les</text>
<text x="179.60" y="442.80" font-size="9.6" font-weight="400" textLength="17.47" lengthAdjust="spacingAndGlyphs" stroke="#fff" stroke-width="0.25">gins</text>
<text x="200.63" y="442.80" font-size="9.6" font-weight="400" textLength="13.24" lengthAdjust="spacingAndGlyphs" stroke="#fff" stroke-width="0.25">ont</text>
<text x="217.43" y="442.80" font-size="9.6" font-weight="400" textLength="13.24" lengthAdjust="spacingAndGlyphs" stroke="#fff" stroke-width="0.25">été</text>
<text x="234.24" y="442.80" font-size="9.6" font-weight="400" textLength="7.41" lengthAdjust="spacingAndGlyphs" stroke="#fff" stroke-width="0.25">la</text>
<text x="245.21" y="442.80" font-size="9.6" font-weight="400" textLength="39.15" lengthAdjust="spacingAndGlyphs" stroke="#fff" stroke-width="0.25">catégorie</text>
<text x="287.93" y="442.80" font-size="9.6" font-weight="400" textLength="12.71" lengthAdjust="spacingAndGlyphs" stroke="#fff" stroke-width="0.25">qui</text>
<text x="35.80" y="454.10" font-size="9.6" font-weight="400" textLength="5.30" lengthAdjust="spacingAndGlyphs" stroke="#fff" stroke-width="0.25">a</text>
<text x="44.91" y="454.10" font-size="9.6" font-weight="400" textLength="25.93" lengthAdjust="spacingAndGlyphs" stroke="#fff" stroke-width="0.25">connu</text>
<text x="74.66" y="454.10" font-size="9.6" font-weight="400" textLength="7.41" lengthAdjust="spacingAndGlyphs" stroke="#fff" stroke-width="0.25">la</text>
<text x="85.89" y="454.10" font-size="9.6" font-weight="400" textLength="17.47" lengthAdjust="spacingAndGlyphs" stroke="#fff" stroke-width="0.25">plus</text>
<text x="107.18" y="454.10" font-size="9.6" font-weight="400" textLength="29.64" lengthAdjust="spacingAndGlyphs" stroke="#fff" stroke-width="0.25">grande</text>
<text x="140.63" y="454.10" font-size="9.6" font-weight="400" textLength="45.49" lengthAdjust="spacingAndGlyphs" stroke="#fff" stroke-width="0.25">croissance</text>
<text x="189.94" y="454.10" font-size="9.6" font-weight="400" textLength="10.59" lengthAdjust="spacingAndGlyphs" stroke="#fff" stroke-width="0.25">en</text>
<text x="204.34" y="454.10" font-size="9.6" font-weight="400" textLength="50.27" lengthAdjust="spacingAndGlyphs" stroke="#fff" stroke-width="0.25">enregistrant</text>
<text x="258.43" y="454.10" font-size="9.6" font-weight="400" textLength="15.35" lengthAdjust="spacingAndGlyphs" stroke="#fff" stroke-width="0.25">des</text>
<text x="277.59" y="454.10" font-size="9.6" font-weight="400" textLength="22.75" lengthAdjust="spacingAndGlyphs" stroke="#fff" stroke-width="0.25">gains</text>
<text x="35.80" y="465.40" font-size="9.6" font-weight="400" textLength="10.59" lengthAdjust="spacingAndGlyphs" stroke="#fff" stroke-width="0.25">de</text>
<text x="50.95" y="465.40" font-size="9.6" font-weight="400" textLength="18.54" lengthAdjust="spacingAndGlyphs" stroke="#fff" stroke-width="0.25">18,8</text>
<text x="74.05" y="465.40" font-size="9.6" font-weight="400" textLength="11.11" lengthAdjust="spacingAndGlyphs" stroke="#fff" stroke-width="0.25">%.</text>
<text x="89.73" y="465.40" font-size="9.6" font-weight="400" textLength="15.87" lengthAdjust="spacingAndGlyphs" stroke="#fff" stroke-width="0.25">Elle</text>
<text x="110.16" y="465.40" font-size="9.6" font-weight="400" textLength="30.69" lengthAdjust="spacingAndGlyphs" stroke="#fff" stroke-width="0.25">occupe</text>
<text x="145.42" y="465.40" font-size="9.6" font-weight="400" textLength="19.58" lengthAdjust="spacingAndGlyphs" stroke="#fff" stroke-width="0.25">ainsi</text>
<text x="169.56" y="465.40" font-size="9.6" font-weight="400" textLength="18.54" lengthAdjust="spacingAndGlyphs" stroke="#fff" stroke-width="0.25">13,9</text>
<text x="192.66" y="465.40" font-size="9.6" font-weight="400" textLength="8.46" lengthAdjust="spacingAndGlyphs" stroke="#fff" stroke-width="0.25">%</text>
<text x="205.68" y="465.40" font-size="9.6" font-weight="400" textLength="15.35" lengthAdjust="spacingAndGlyphs" stroke="#fff" stroke-width="0.25">des</text>
<text x="225.59" y="465.40" font-size="9.6" font-weight="400" textLength="21.17" lengthAdjust="spacingAndGlyphs" stroke="#fff" stroke-width="0.25">parts</text>
<text x="251.33" y="465.40" font-size="9.6" font-weight="400" textLength="10.59" lengthAdjust="spacingAndGlyphs" stroke="#fff" stroke-width="0.25">de</text>
<text x="266.48" y="465.40" font-size="9.6" font-weight="400" textLength="34.38" lengthAdjust="spacingAndGlyphs" stroke="#fff" stroke-width="0.25">marché,</text>
<text x="35.80" y="476.70" font-size="9.6" font-weight="400" textLength="43.93" lengthAdjust="spacingAndGlyphs" stroke="#fff" stroke-width="0.25">devançant</text>
<text x="82.38" y="476.70" font-size="9.6" font-weight="400" textLength="19.58" lengthAdjust="spacingAndGlyphs" stroke="#fff" stroke-width="0.25">celle</text>
<text x="104.60" y="476.70" font-size="9.6" font-weight="400" textLength="15.35" lengthAdjust="spacingAndGlyphs" stroke="#fff" stroke-width="0.25">des</text>
<text x="122.60" y="476.70" font-size="9.6" font-weight="400" textLength="33.33" lengthAdjust="spacingAndGlyphs" stroke="#fff" stroke-width="0.25">whiskys</text>
<text x="158.58" y="476.70" font-size="9.6" font-weight="400" textLength="19.05" lengthAdjust="spacingAndGlyphs" stroke="#fff" stroke-width="0.25">pour</text>
<text x="180.28" y="476.70" font-size="9.6" font-weight="400" textLength="7.41" lengthAdjust="spacingAndGlyphs" stroke="#fff" stroke-width="0.25">la</text>
<text x="190.34" y="476.70" font-size="9.6" font-weight="400" textLength="37.56" lengthAdjust="spacingAndGlyphs" stroke="#fff" stroke-width="0.25">première</text>
<text x="230.54" y="476.70" font-size="9.6" font-weight="400" textLength="17.47" lengthAdjust="spacingAndGlyphs" stroke="#fff" stroke-width="0.25">fois.</text>
<text x="35.47" y="635.80" font-size="8.1" font-weight="400" textLength="14.37" lengthAdjust="spacingAndGlyphs" stroke="#fff" stroke-width="0.22">Les</text>
<text x="52.38" y="635.80" font-size="8.1" font-weight="400" textLength="16.35" lengthAdjust="spacingAndGlyphs" stroke="#fff" stroke-width="0.22">gins</text>
<text x="71.27" y="635.80" font-size="8.1" font-weight="400" textLength="14.87" lengthAdjust="spacingAndGlyphs" stroke="#fff" stroke-width="0.22">font</text>
<text x="88.68" y="635.80" font-size="8.1" font-weight="400" textLength="14.87" lengthAdjust="spacingAndGlyphs" stroke="#fff" stroke-width="0.22">une</text>
<text x="106.09" y="635.80" font-size="8.1" font-weight="400" textLength="13.87" lengthAdjust="spacingAndGlyphs" stroke="#fff" stroke-width="0.22">fois</text>
<text x="122.51" y="635.80" font-size="8.1" font-weight="400" textLength="9.92" lengthAdjust="spacingAndGlyphs" stroke="#fff" stroke-width="0.22">de</text>
<text x="134.97" y="635.80" font-size="8.1" font-weight="400" textLength="16.35" lengthAdjust="spacingAndGlyphs" stroke="#fff" stroke-width="0.22">plus</text>
<text x="153.86" y="635.80" font-size="8.1" font-weight="400" textLength="22.77" lengthAdjust="spacingAndGlyphs" stroke="#fff" stroke-width="0.22">parler</text>
<text x="179.18" y="635.80" font-size="8.1" font-weight="400" textLength="21.30" lengthAdjust="spacingAndGlyphs" stroke="#fff" stroke-width="0.22">d’eux</text>
<text x="203.02" y="635.80" font-size="8.1" font-weight="400" textLength="2.48" lengthAdjust="spacingAndGlyphs" stroke="#fff" stroke-width="0.22">!</text>
<text x="208.03" y="635.80" font-size="8.1" font-weight="400" textLength="31.20" lengthAdjust="spacingAndGlyphs" stroke="#fff" stroke-width="0.22">L’intérêt</text>
<text x="241.77" y="635.80" font-size="8.1" font-weight="400" textLength="20.30" lengthAdjust="spacingAndGlyphs" stroke="#fff" stroke-width="0.22">qu’ils</text>
<text x="264.62" y="635.80" font-size="8.1" font-weight="400" textLength="35.15" lengthAdjust="spacingAndGlyphs" stroke="#fff" stroke-width="0.22">suscitent</text>
<text x="35.82" y="646.55" font-size="8.1" font-weight="400" textLength="4.97" lengthAdjust="spacingAndGlyphs" stroke="#fff" stroke-width="0.22">a</text>
<text x="45.57" y="646.55" font-size="8.1" font-weight="400" textLength="47.52" lengthAdjust="spacingAndGlyphs" stroke="#fff" stroke-width="0.22">grandement</text>
<text x="97.88" y="646.55" font-size="8.1" font-weight="400" textLength="35.65" lengthAdjust="spacingAndGlyphs" stroke="#fff" stroke-width="0.22">influencé</text>
<text x="138.31" y="646.55" font-size="8.1" font-weight="400" textLength="20.30" lengthAdjust="spacingAndGlyphs" stroke="#fff" stroke-width="0.22">notre</text>
<text x="163.39" y="646.55" font-size="8.1" font-weight="400" textLength="58.88" lengthAdjust="spacingAndGlyphs" stroke="#fff" stroke-width="0.22">empressement</text>
<text x="227.05" y="646.55" font-size="8.1" font-weight="400" textLength="4.97" lengthAdjust="spacingAndGlyphs" stroke="#fff" stroke-width="0.22">à</text>
<text x="236.80" y="646.55" font-size="8.1" font-weight="400" textLength="44.07" lengthAdjust="spacingAndGlyphs" stroke="#fff" stroke-width="0.22">développer</text>
<text x="285.65" y="646.55" font-size="8.1" font-weight="400" textLength="14.37" lengthAdjust="spacingAndGlyphs" stroke="#fff" stroke-width="0.22">des</text>
<text x="35.47" y="657.30" font-size="8.1" font-weight="400" textLength="33.15" lengthAdjust="spacingAndGlyphs" stroke="#fff" stroke-width="0.22">Pastilles</text>
<text x="72.55" y="657.30" font-size="8.1" font-weight="400" textLength="9.92" lengthAdjust="spacingAndGlyphs" stroke="#fff" stroke-width="0.22">de</text>
<text x="86.40" y="657.30" font-size="8.1" font-weight="400" textLength="17.34" lengthAdjust="spacingAndGlyphs" stroke="#fff" stroke-width="0.22">goût</text>
<text x="107.67" y="657.30" font-size="8.1" font-weight="400" textLength="11.89" lengthAdjust="spacingAndGlyphs" stroke="#fff" stroke-width="0.22">qui</text>
<text x="123.49" y="657.30" font-size="8.1" font-weight="400" textLength="14.85" lengthAdjust="spacingAndGlyphs" stroke="#fff" stroke-width="0.22">leur</text>
<text x="142.27" y="657.30" font-size="8.1" font-weight="400" textLength="23.77" lengthAdjust="spacingAndGlyphs" stroke="#fff" stroke-width="0.22">soient</text>
<text x="169.97" y="657.30" font-size="8.1" font-weight="400" textLength="32.67" lengthAdjust="spacingAndGlyphs" stroke="#fff" stroke-width="0.22">propres.</text>
<text x="206.57" y="657.30" font-size="8.1" font-weight="400" textLength="21.78" lengthAdjust="spacingAndGlyphs" stroke="#fff" stroke-width="0.22">Ainsi,</text>
<text x="232.28" y="657.30" font-size="8.1" font-weight="400" textLength="9.92" lengthAdjust="spacingAndGlyphs" stroke="#fff" stroke-width="0.22">en</text>
<text x="246.13" y="657.30" font-size="8.1" font-weight="400" textLength="45.07" lengthAdjust="spacingAndGlyphs" stroke="#fff" stroke-width="0.22">2020-2021,</text>
<text x="295.12" y="657.30" font-size="8.1" font-weight="400" textLength="4.97" lengthAdjust="spacingAndGlyphs" stroke="#fff" stroke-width="0.22">8</text>
<text x="35.47" y="668.05" font-size="8.1" font-weight="400" textLength="33.15" lengthAdjust="spacingAndGlyphs" stroke="#fff" stroke-width="0.22">Pastilles</text>
<text x="71.47" y="668.05" font-size="8.1" font-weight="400" textLength="9.92" lengthAdjust="spacingAndGlyphs" stroke="#fff" stroke-width="0.22">de</text>
<text x="84.23" y="668.05" font-size="8.1" font-weight="400" textLength="17.34" lengthAdjust="spacingAndGlyphs" stroke="#fff" stroke-width="0.22">goût</text>
<text x="104.42" y="668.05" font-size="8.1" font-weight="400" textLength="35.65" lengthAdjust="spacingAndGlyphs" stroke="#fff" stroke-width="0.22">qualifiant</text>
<text x="142.91" y="668.05" font-size="8.1" font-weight="400" textLength="6.94" lengthAdjust="spacingAndGlyphs" stroke="#fff" stroke-width="0.22">le</text>
<text x="152.70" y="668.05" font-size="8.1" font-weight="400" textLength="11.89" lengthAdjust="spacingAndGlyphs" stroke="#fff" stroke-width="0.22">gin</text>
<text x="167.44" y="668.05" font-size="8.1" font-weight="400" textLength="12.39" lengthAdjust="spacingAndGlyphs" stroke="#fff" stroke-width="0.22">ont</text>
<text x="182.67" y="668.05" font-size="8.1" font-weight="400" textLength="11.89" lengthAdjust="spacingAndGlyphs" stroke="#fff" stroke-width="0.22">fait</text>
<text x="197.41" y="668.05" font-size="8.1" font-weight="400" textLength="14.85" lengthAdjust="spacingAndGlyphs" stroke="#fff" stroke-width="0.22">leur</text>
<text x="215.11" y="668.05" font-size="8.1" font-weight="400" textLength="39.12" lengthAdjust="spacingAndGlyphs" stroke="#fff" stroke-width="0.22">apparition</text>
<text x="257.07" y="668.05" font-size="8.1" font-weight="400" textLength="19.32" lengthAdjust="spacingAndGlyphs" stroke="#fff" stroke-width="0.22">dans</text>
<text x="279.24" y="668.05" font-size="8.1" font-weight="400" textLength="21.28" lengthAdjust="spacingAndGlyphs" stroke="#fff" stroke-width="0.22">SAQ.</text>
<text x="35.75" y="678.80" font-size="8.1" font-weight="400" textLength="20.78" lengthAdjust="spacingAndGlyphs" stroke="#fff" stroke-width="0.22">COM</text>
<text x="59.39" y="678.80" font-size="8.1" font-weight="400" textLength="7.44" lengthAdjust="spacingAndGlyphs" stroke="#fff" stroke-width="0.22">et</text>
<text x="69.70" y="678.80" font-size="8.1" font-weight="400" textLength="19.32" lengthAdjust="spacingAndGlyphs" stroke="#fff" stroke-width="0.22">nous</text>
<text x="91.88" y="678.80" font-size="8.1" font-weight="400" textLength="33.67" lengthAdjust="spacingAndGlyphs" stroke="#fff" stroke-width="0.22">pouvons</text>
<text x="128.41" y="678.80" font-size="8.1" font-weight="400" textLength="24.25" lengthAdjust="spacingAndGlyphs" stroke="#fff" stroke-width="0.22">d’ores</text>
<text x="155.53" y="678.80" font-size="8.1" font-weight="400" textLength="7.44" lengthAdjust="spacingAndGlyphs" stroke="#fff" stroke-width="0.22">et</text>
<text x="165.84" y="678.80" font-size="8.1" font-weight="400" textLength="16.84" lengthAdjust="spacingAndGlyphs" stroke="#fff" stroke-width="0.22">déjà</text>
<text x="185.54" y="678.80" font-size="8.1" font-weight="400" textLength="36.63" lengthAdjust="spacingAndGlyphs" stroke="#fff" stroke-width="0.22">constater</text>
<text x="225.03" y="678.80" font-size="8.1" font-weight="400" textLength="14.87" lengthAdjust="spacingAndGlyphs" stroke="#fff" stroke-width="0.22">une</text>
<text x="242.76" y="678.80" font-size="8.1" font-weight="400" textLength="36.64" lengthAdjust="spacingAndGlyphs" stroke="#fff" stroke-width="0.22">tendance</text>
<text x="282.27" y="678.80" font-size="8.1" font-weight="400" textLength="17.82" lengthAdjust="spacingAndGlyphs" stroke="#fff" stroke-width="0.22">forte</text>
<text x="35.83" y="689.55" font-size="8.1" font-weight="400" textLength="19.32" lengthAdjust="spacingAndGlyphs" stroke="#fff" stroke-width="0.22">dans</text>
<text x="58.28" y="689.55" font-size="8.1" font-weight="400" textLength="6.94" lengthAdjust="spacingAndGlyphs" stroke="#fff" stroke-width="0.22">le</text>
<text x="68.35" y="689.55" font-size="8.1" font-weight="400" textLength="17.34" lengthAdjust="spacingAndGlyphs" stroke="#fff" stroke-width="0.22">goût</text>
<text x="88.83" y="689.55" font-size="8.1" font-weight="400" textLength="14.37" lengthAdjust="spacingAndGlyphs" stroke="#fff" stroke-width="0.22">des</text>
<text x="106.33" y="689.55" font-size="8.1" font-weight="400" textLength="42.57" lengthAdjust="spacingAndGlyphs" stroke="#fff" stroke-width="0.22">Québécois</text>
<text x="152.03" y="689.55" font-size="8.1" font-weight="400" textLength="2.48" lengthAdjust="spacingAndGlyphs" stroke="#fff" stroke-width="0.22">:</text>
<text x="157.64" y="689.55" font-size="8.1" font-weight="400" textLength="11.40" lengthAdjust="spacingAndGlyphs" stroke="#fff" stroke-width="0.22">les</text>
<text x="172.16" y="689.55" font-size="8.1" font-weight="400" textLength="16.35" lengthAdjust="spacingAndGlyphs" stroke="#fff" stroke-width="0.22">gins</text>
<text x="191.64" y="689.55" font-size="8.1" font-weight="400" textLength="14.37" lengthAdjust="spacingAndGlyphs" stroke="#fff" stroke-width="0.22">aux</text>
<text x="209.14" y="689.55" font-size="8.1" font-weight="400" textLength="29.70" lengthAdjust="spacingAndGlyphs" stroke="#fff" stroke-width="0.22">arômes</text>
<text x="241.97" y="689.55" font-size="8.1" font-weight="400" textLength="9.92" lengthAdjust="spacingAndGlyphs" stroke="#fff" stroke-width="0.22">de</text>
<text x="255.02" y="689.55" font-size="8.1" font-weight="400" textLength="34.17" lengthAdjust="spacingAndGlyphs" stroke="#fff" stroke-width="0.22">genièvre</text>
<text x="292.32" y="689.55" font-size="8.1" font-weight="400" textLength="7.44" lengthAdjust="spacingAndGlyphs" stroke="#fff" stroke-width="0.22">et</text>
<text x="36.07" y="700.30" font-size="8.1" font-weight="400" textLength="59.40" lengthAdjust="spacingAndGlyphs" stroke="#fff" stroke-width="0.22">forestier/boréal</text>
<text x="98.51" y="700.30" font-size="8.1" font-weight="400" textLength="50.00" lengthAdjust="spacingAndGlyphs" stroke="#fff" stroke-width="0.22">représentent</text>
<text x="151.55" y="700.30" font-size="8.1" font-weight="400" textLength="29.20" lengthAdjust="spacingAndGlyphs" stroke="#fff" stroke-width="0.22">environ</text>
<text x="183.79" y="700.30" font-size="8.1" font-weight="400" textLength="6.94" lengthAdjust="spacingAndGlyphs" stroke="#fff" stroke-width="0.22">le</text>
<text x="193.77" y="700.30" font-size="8.1" font-weight="400" textLength="16.83" lengthAdjust="spacingAndGlyphs" stroke="#fff" stroke-width="0.22">trois</text>
<text x="213.64" y="700.30" font-size="8.1" font-weight="400" textLength="24.75" lengthAdjust="spacingAndGlyphs" stroke="#fff" stroke-width="0.22">quarts</text>
<text x="241.43" y="700.30" font-size="8.1" font-weight="400" textLength="9.92" lengthAdjust="spacingAndGlyphs" stroke="#fff" stroke-width="0.22">de</text>
<text x="254.38" y="700.30" font-size="8.1" font-weight="400" textLength="14.37" lengthAdjust="spacingAndGlyphs" stroke="#fff" stroke-width="0.22">nos</text>
<text x="271.79" y="700.30" font-size="8.1" font-weight="400" textLength="28.72" lengthAdjust="spacingAndGlyphs" stroke="#fff" stroke-width="0.22">ventes!</text>
<text x="320.30" y="94.00" font-size="11" font-weight="700" textLength="246.46" lengthAdjust="spacingAndGlyphs">Répartition des ventes en litres par catégories de</text>
<text x="335.84" y="107.00" font-size="11" font-weight="700" textLength="215.17" lengthAdjust="spacingAndGlyphs">produits (succursales et centres spécialisés)</text>
<text x="479.02" y="127.00" font-size="10.3" font-weight="700" textLength="24.69" lengthAdjust="spacingAndGlyphs">2021</text>
<text x="535.40" y="127.00" font-size="10.3" font-weight="700" textLength="25.36" lengthAdjust="spacingAndGlyphs">2020</text>
<rect x="462.70" y="129.90" width="113.50" height="1.60" rx="0" fill="#4e1846"/>
<text x="322.26" y="152.90" font-size="9.6" font-weight="400" textLength="18.32" lengthAdjust="spacingAndGlyphs" stroke="#fff" stroke-width="0.2">Vins</text>
<text x="491.93" y="152.90" font-size="9.6" font-weight="400" text-anchor="middle" textLength="26.93" lengthAdjust="spacingAndGlyphs" stroke="#fff" stroke-width="0.2">76,9%</text>
<text x="548.13" y="152.90" font-size="9.6" font-weight="400" text-anchor="middle" textLength="26.93" lengthAdjust="spacingAndGlyphs" stroke="#fff" stroke-width="0.2">77,9%</text>
<rect x="319.30" y="156.75" width="256.20" height="0.90" rx="0" fill="#3a5882"/>
<text x="321.87" y="170.80" font-size="9.6" font-weight="400" textLength="42.25" lengthAdjust="spacingAndGlyphs" stroke="#fff" stroke-width="0.2">Spiritueux</text>
<text x="491.81" y="170.80" font-size="9.6" font-weight="400" text-anchor="middle" textLength="26.93" lengthAdjust="spacingAndGlyphs" stroke="#fff" stroke-width="0.2">15,6%</text>
<text x="548.01" y="170.80" font-size="9.6" font-weight="400" text-anchor="middle" textLength="26.93" lengthAdjust="spacingAndGlyphs" stroke="#fff" stroke-width="0.2">15,3%</text>
<rect x="319.30" y="173.85" width="256.20" height="0.90" rx="0" fill="#3a5882"/>
<text x="321.52" y="187.70" font-size="9.6" font-weight="400" textLength="87.66" lengthAdjust="spacingAndGlyphs" stroke="#fff" stroke-width="0.2">Boissons panachées</text>
<text x="491.98" y="187.70" font-size="9.6" font-weight="400" text-anchor="middle" textLength="21.66" lengthAdjust="spacingAndGlyphs" stroke="#fff" stroke-width="0.2">5,6%</text>
<text x="548.26" y="187.70" font-size="9.6" font-weight="400" text-anchor="middle" textLength="21.66" lengthAdjust="spacingAndGlyphs" stroke="#fff" stroke-width="0.2">4,9%</text>
<rect x="319.30" y="191.75" width="256.20" height="0.90" rx="0" fill="#3a5882"/>
<text x="321.52" y="205.60" font-size="9.6" font-weight="400" textLength="26.93" lengthAdjust="spacingAndGlyphs" stroke="#fff" stroke-width="0.2">Bières</text>
<text x="491.81" y="205.60" font-size="9.6" font-weight="400" text-anchor="middle" textLength="21.66" lengthAdjust="spacingAndGlyphs" stroke="#fff" stroke-width="0.2">1,6%</text>
<text x="548.01" y="205.60" font-size="9.6" font-weight="400" text-anchor="middle" textLength="21.66" lengthAdjust="spacingAndGlyphs" stroke="#fff" stroke-width="0.2">1,6%</text>
<rect x="319.30" y="208.65" width="256.20" height="0.90" rx="0" fill="#3a5882"/>
<text x="321.82" y="222.70" font-size="9.6" font-weight="400" textLength="27.46" lengthAdjust="spacingAndGlyphs" stroke="#fff" stroke-width="0.2">Cidres</text>
<text x="491.98" y="222.70" font-size="9.6" font-weight="400" text-anchor="middle" textLength="21.66" lengthAdjust="spacingAndGlyphs" stroke="#fff" stroke-width="0.2">0,3%</text>
<text x="548.19" y="222.70" font-size="8.4" font-weight="400" text-anchor="middle" textLength="18.90" lengthAdjust="spacingAndGlyphs" stroke="#fff" stroke-width="0.2">0,3%</text>
<rect x="319.30" y="226.45" width="256.20" height="0.90" rx="0" fill="#3a5882"/>
<text x="312.53" y="319.70" font-size="11" font-weight="700" textLength="257.39" lengthAdjust="spacingAndGlyphs">Ventes par types de spiritueux (en millions de litres)</text>
<text x="312.10" y="332.20" font-size="11" font-weight="700" textLength="170.39" lengthAdjust="spacingAndGlyphs">(succursales et centres spécialisés)</text>
<text x="414.41" y="362.60" font-size="10.3" font-weight="700" textLength="24.90" lengthAdjust="spacingAndGlyphs">2021</text>
<text x="464.09" y="362.60" font-size="10.3" font-weight="700" textLength="53.55" lengthAdjust="spacingAndGlyphs">Croissance</text>
<text x="530.56" y="362.60" font-size="10.3" font-weight="700" textLength="37.72" lengthAdjust="spacingAndGlyphs">Part de</text>
<text x="531.53" y="374.50" font-size="10.3" font-weight="700" textLength="36.42" lengthAdjust="spacingAndGlyphs">marché</text>
<rect x="395.50" y="378.50" width="180.20" height="1.60" rx="0" fill="#4e1846"/>
<text x="315.22" y="401.70" font-size="9.6" font-weight="400" textLength="36.44" lengthAdjust="spacingAndGlyphs" stroke="#fff" stroke-width="0.2">Liqueurs</text>
<text x="427.37" y="401.70" font-size="9.6" font-weight="400" text-anchor="middle" textLength="21.13" lengthAdjust="spacingAndGlyphs" stroke="#fff" stroke-width="0.2">5,9 L</text>
<text x="491.25" y="401.70" font-size="9.6" font-weight="400" text-anchor="middle" textLength="24.30" lengthAdjust="spacingAndGlyphs" stroke="#fff" stroke-width="0.2">9,3 %</text>
<text x="549.83" y="401.70" font-size="9.6" font-weight="400" text-anchor="middle" textLength="29.58" lengthAdjust="spacingAndGlyphs" stroke="#fff" stroke-width="0.2">21,6 %</text>
<rect x="312.30" y="405.55" width="263.10" height="0.90" rx="0" fill="#3a5882"/>
<text x="315.96" y="418.60" font-size="9.6" font-weight="400" textLength="26.42" lengthAdjust="spacingAndGlyphs" stroke="#fff" stroke-width="0.2">Vodka</text>
<text x="427.37" y="418.60" font-size="9.6" font-weight="400" text-anchor="middle" textLength="21.13" lengthAdjust="spacingAndGlyphs" stroke="#fff" stroke-width="0.2">5,9 L</text>
<text x="491.23" y="418.60" font-size="9.6" font-weight="400" text-anchor="middle" textLength="24.30" lengthAdjust="spacingAndGlyphs" stroke="#fff" stroke-width="0.2">7,3 %</text>
<text x="549.83" y="418.60" font-size="9.6" font-weight="400" text-anchor="middle" textLength="29.58" lengthAdjust="spacingAndGlyphs" stroke="#fff" stroke-width="0.2">21,5 %</text>
<rect x="312.30" y="422.75" width="263.10" height="0.90" rx="0" fill="#3a5882"/>
<text x="315.22" y="436.50" font-size="9.6" font-weight="400" textLength="25.34" lengthAdjust="spacingAndGlyphs" stroke="#fff" stroke-width="0.2">Rhum</text>
<text x="427.37" y="436.50" font-size="9.6" font-weight="400" text-anchor="middle" textLength="21.13" lengthAdjust="spacingAndGlyphs" stroke="#fff" stroke-width="0.2">5,3 L</text>
<text x="491.29" y="436.50" font-size="9.6" font-weight="400" text-anchor="middle" textLength="24.30" lengthAdjust="spacingAndGlyphs" stroke="#fff" stroke-width="0.2">3,9 %</text>
<text x="549.71" y="436.50" font-size="9.6" font-weight="400" text-anchor="middle" textLength="29.58" lengthAdjust="spacingAndGlyphs" stroke="#fff" stroke-width="0.2">19,4 %</text>
<rect x="312.30" y="440.15" width="263.10" height="0.90" rx="0" fill="#3a5882"/>
<text x="315.52" y="453.60" font-size="9.6" font-weight="400" textLength="14.79" lengthAdjust="spacingAndGlyphs" stroke="#fff" stroke-width="0.2">Gin</text>
<text x="427.38" y="453.60" font-size="9.6" font-weight="400" text-anchor="middle" textLength="21.13" lengthAdjust="spacingAndGlyphs" stroke="#fff" stroke-width="0.2">3,8 L</text>
<text x="491.11" y="453.60" font-size="9.6" font-weight="400" text-anchor="middle" textLength="29.58" lengthAdjust="spacingAndGlyphs" stroke="#fff" stroke-width="0.2">18,8 %</text>
<text x="549.71" y="453.60" font-size="9.6" font-weight="400" text-anchor="middle" textLength="26.93" lengthAdjust="spacingAndGlyphs" stroke="#fff" stroke-width="0.2">13,9%</text>
<rect x="312.30" y="457.75" width="263.10" height="0.90" rx="0" fill="#3a5882"/>
<text x="315.96" y="471.50" font-size="9.6" font-weight="400" textLength="30.61" lengthAdjust="spacingAndGlyphs" stroke="#fff" stroke-width="0.2">Whisky</text>
<text x="427.38" y="471.50" font-size="9.6" font-weight="400" text-anchor="middle" textLength="21.13" lengthAdjust="spacingAndGlyphs" stroke="#fff" stroke-width="0.2">3,8 L</text>
<text x="491.23" y="471.50" font-size="9.6" font-weight="400" text-anchor="middle" textLength="24.30" lengthAdjust="spacingAndGlyphs" stroke="#fff" stroke-width="0.2">2,7 %</text>
<text x="549.71" y="471.50" font-size="9.6" font-weight="400" text-anchor="middle" textLength="29.58" lengthAdjust="spacingAndGlyphs" stroke="#fff" stroke-width="0.2">13,9 %</text>
<rect x="312.30" y="475.35" width="263.10" height="0.90" rx="0" fill="#3a5882"/>
<text x="315.22" y="488.60" font-size="9.6" font-weight="400" textLength="30.10" lengthAdjust="spacingAndGlyphs" stroke="#fff" stroke-width="0.2">Brandy</text>
<text x="427.20" y="488.60" font-size="9.6" font-weight="400" text-anchor="middle" textLength="21.13" lengthAdjust="spacingAndGlyphs" stroke="#fff" stroke-width="0.2">1,5 L</text>
<text x="491.47" y="488.60" font-size="9.6" font-weight="400" text-anchor="middle" textLength="16.38" lengthAdjust="spacingAndGlyphs" stroke="#fff" stroke-width="0.2">– %</text>
<text x="549.88" y="488.60" font-size="9.6" font-weight="400" text-anchor="middle" textLength="24.30" lengthAdjust="spacingAndGlyphs" stroke="#fff" stroke-width="0.2">5,6 %</text>
<rect x="312.30" y="492.05" width="263.10" height="0.90" rx="0" fill="#3a5882"/>
<text x="315.98" y="506.30" font-size="9.6" font-weight="400" textLength="70.74" lengthAdjust="spacingAndGlyphs" stroke="#fff" stroke-width="0.2">Autres spiritueux</text>
<text x="427.20" y="506.30" font-size="9.6" font-weight="400" text-anchor="middle" textLength="21.13" lengthAdjust="spacingAndGlyphs" stroke="#fff" stroke-width="0.2">1,1 L</text>
<text x="491.47" y="506.30" font-size="9.6" font-weight="400" text-anchor="middle" textLength="16.38" lengthAdjust="spacingAndGlyphs" stroke="#fff" stroke-width="0.2">– %</text>
<text x="549.96" y="506.30" font-size="9.6" font-weight="400" text-anchor="middle" textLength="24.30" lengthAdjust="spacingAndGlyphs" stroke="#fff" stroke-width="0.2">4,1 %</text>
<rect x="312.30" y="509.95" width="263.10" height="0.90" rx="0" fill="#3a5882"/>
<text x="35.50" y="588.90" font-size="11" font-weight="700" textLength="261.43" lengthAdjust="spacingAndGlyphs">Répartition des ventes en litres par Pastilles de goût</text>
<text x="35.70" y="600.30" font-size="11" font-weight="700" textLength="170.60" lengthAdjust="spacingAndGlyphs">(succursales et centres spécialisés)</text>
<rect x="333.20" y="575.30" width="219.30" height="18.20" rx="0" fill="#cc97a6"/>
<text x="337.00" y="589.60" font-size="10.3" font-weight="700" textLength="21.75" lengthAdjust="spacingAndGlyphs">Gins</text>
<text x="516.31" y="589.60" font-size="10.3" font-weight="700" textLength="25.00" lengthAdjust="spacingAndGlyphs">2021</text>
<text x="337.42" y="615.60" font-size="9.6" font-weight="400" textLength="38.55" lengthAdjust="spacingAndGlyphs" stroke="#fff" stroke-width="0.2">Genièvre</text>
<text x="528.93" y="615.60" font-size="9.6" font-weight="400" text-anchor="middle" textLength="26.93" lengthAdjust="spacingAndGlyphs" stroke="#fff" stroke-width="0.2">60,5%</text>
<rect x="333.80" y="619.65" width="218.00" height="0.90" rx="0" fill="#3a5882"/>
<text x="337.12" y="633.90" font-size="9.6" font-weight="400" textLength="66.52" lengthAdjust="spacingAndGlyphs" stroke="#fff" stroke-width="0.2">Forestier boréal</text>
<text x="528.81" y="633.90" font-size="9.6" font-weight="400" text-anchor="middle" textLength="26.93" lengthAdjust="spacingAndGlyphs" stroke="#fff" stroke-width="0.2">14,2%</text>
<rect x="333.80" y="637.05" width="218.00" height="0.90" rx="0" fill="#3a5882"/>
<text x="337.88" y="650.60" font-size="9.6" font-weight="400" textLength="38.01" lengthAdjust="spacingAndGlyphs" stroke="#fff" stroke-width="0.2">Agrumes</text>
<text x="528.93" y="650.60" font-size="9.6" font-weight="400" text-anchor="middle" textLength="21.66" lengthAdjust="spacingAndGlyphs" stroke="#fff" stroke-width="0.2">7,7%</text>
<rect x="333.80" y="654.65" width="218.00" height="0.90" rx="0" fill="#3a5882"/>
<text x="337.12" y="668.30" font-size="9.6" font-weight="400" textLength="23.76" lengthAdjust="spacingAndGlyphs" stroke="#fff" stroke-width="0.2">Floral</text>
<text x="528.98" y="668.30" font-size="9.6" font-weight="400" text-anchor="middle" textLength="21.66" lengthAdjust="spacingAndGlyphs" stroke="#fff" stroke-width="0.2">5,8%</text>
<rect x="333.80" y="672.05" width="218.00" height="0.90" rx="0" fill="#3a5882"/>
<text x="337.12" y="685.90" font-size="9.6" font-weight="400" textLength="69.18" lengthAdjust="spacingAndGlyphs" stroke="#fff" stroke-width="0.2">Herbacé végétal</text>
<text x="528.98" y="685.90" font-size="9.6" font-weight="400" text-anchor="middle" textLength="21.66" lengthAdjust="spacingAndGlyphs" stroke="#fff" stroke-width="0.2">5,2%</text>
<rect x="333.80" y="690.15" width="218.00" height="0.90" rx="0" fill="#3a5882"/>
<text x="337.12" y="703.80" font-size="9.6" font-weight="400" textLength="24.29" lengthAdjust="spacingAndGlyphs" stroke="#fff" stroke-width="0.2">Fruité</text>
<text x="528.99" y="703.80" font-size="9.6" font-weight="400" text-anchor="middle" textLength="21.66" lengthAdjust="spacingAndGlyphs" stroke="#fff" stroke-width="0.2">3,4%</text>
<rect x="333.80" y="707.15" width="218.00" height="0.90" rx="0" fill="#3a5882"/>
<text x="337.12" y="720.70" font-size="9.6" font-weight="400" textLength="23.76" lengthAdjust="spacingAndGlyphs" stroke="#fff" stroke-width="0.2">Épicé</text>
<text x="528.93" y="720.70" font-size="9.6" font-weight="400" text-anchor="middle" textLength="21.66" lengthAdjust="spacingAndGlyphs" stroke="#fff" stroke-width="0.2">2,8%</text>
<rect x="333.80" y="724.75" width="218.00" height="0.90" rx="0" fill="#3a5882"/>
<text x="337.12" y="738.60" font-size="9.6" font-weight="400" textLength="47.52" lengthAdjust="spacingAndGlyphs" stroke="#fff" stroke-width="0.2">Boisé fumé</text>
<text x="528.99" y="738.60" font-size="8.6" font-weight="400" text-anchor="middle" textLength="19.40" lengthAdjust="spacingAndGlyphs" stroke="#fff" stroke-width="0.2">0,4%</text>
<rect x="333.80" y="742.15" width="218.00" height="0.90" rx="0" fill="#3a5882"/>
<text x="568.60" y="780.90" font-size="12.3" font-weight="700" textLength="9.01" lengthAdjust="spacingAndGlyphs">7</text>
</svg>
</body></html>
